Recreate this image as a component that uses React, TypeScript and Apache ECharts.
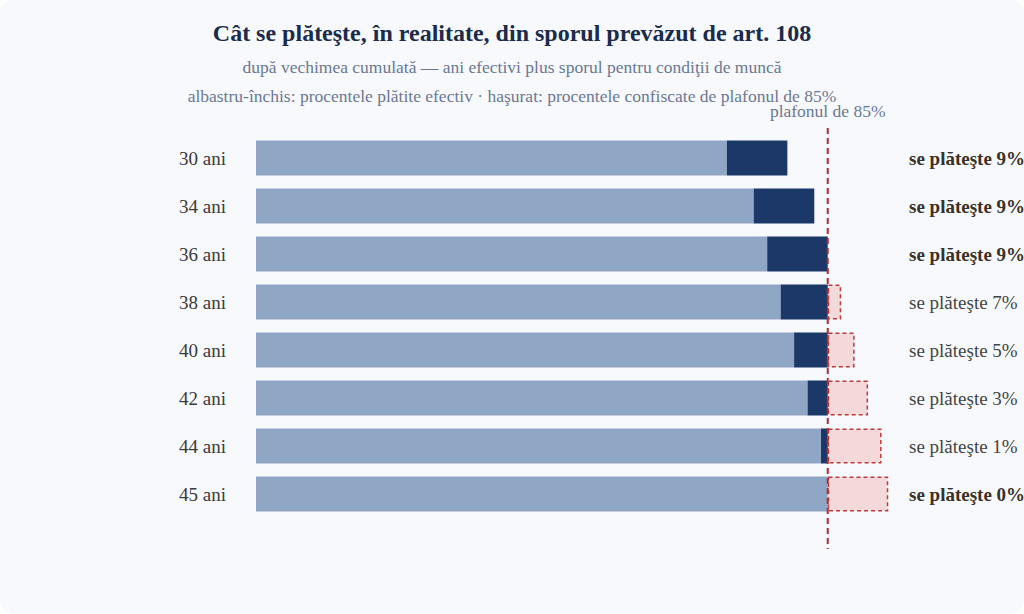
import React, { useEffect, useRef } from "react";
import * as echarts from "echarts";

const categories = ["30 ani", "34 ani", "36 ani", "38 ani", "40 ani", "42 ani", "44 ani", "45 ani"];
const baseValues = [70, 74, 76, 78, 80, 82, 84, 85];
const paidValues = [9, 9, 9, 7, 5, 3, 1, 0];
const confiscatedValues = [0, 0, 0, 2, 4, 6, 8, 9];
const capValue = 85;
const paidLabels = paidValues.map((v) => `se plăteşte ${v}%`);

const FONT = "'Liberation Serif', 'DejaVu Serif', serif";

export default function App() {
  const ref = useRef<HTMLDivElement>(null);
  useEffect(() => {
    document.body.style.margin = "0";
    const chart = echarts.init(ref.current!, undefined, { renderer: "svg" });
    const option: any = {
      animation: false,
      backgroundColor: "transparent",
      textStyle: { fontFamily: FONT },
      title: [
        {
          text: "Cât se plăteşte, în realitate, din sporul prevăzut de art. 108",
          left: "center",
          top: 16,
          textStyle: { fontFamily: FONT, fontSize: 24, fontWeight: "bold", color: "#1a2b4c" },
        },
        {
          text: "după vechimea cumulată — ani efectivi plus sporul pentru condiţii de muncă",
          left: "center",
          top: 53,
          textStyle: { fontFamily: FONT, fontSize: 17.5, fontWeight: "normal", color: "#6a7895" },
        },
        {
          text: "albastru-închis: procentele plătite efectiv · haşurat: procentele confiscate de plafonul de 85%",
          left: "center",
          top: 82,
          textStyle: { fontFamily: FONT, fontSize: 17.5, fontWeight: "normal", color: "#6a7895" },
        },
      ],
      grid: {
        left: 256,
        right: 129,
        top: 134,
        bottom: 96,
        containLabel: false,
        outerBoundsMode: "none",
      },
      xAxis: { type: "value", min: 0, max: 95, show: false, splitLine: { show: false } },
      yAxis: [
        {
          type: "category",
          data: categories,
          inverse: true,
          axisLine: { show: false },
          axisTick: { show: false },
          axisLabel: { margin: 30, fontSize: 19, color: "#3a3a3a", fontFamily: FONT },
        },
        {
          type: "category",
          data: paidLabels,
          inverse: true,
          position: "right",
          axisLine: { show: false },
          axisTick: { show: false },
          axisLabel: {
            margin: 14,
            align: "left",
            formatter: (value: string, idx: number) => {
              const p = paidValues[idx];
              return p === 9 || p === 0 ? `{b|${value}}` : `{n|${value}}`;
            },
            rich: {
              b: { fontSize: 19, fontWeight: "bold", color: "#3a3128", fontFamily: FONT },
              n: { fontSize: 19, fontWeight: "normal", color: "#444444", fontFamily: FONT },
            },
          },
        },
      ],
      series: [
        {
          type: "bar",
          stack: "a",
          barWidth: 35,
          data: baseValues,
          itemStyle: { color: "#8fa6c5" },
        },
        {
          type: "bar",
          stack: "a",
          barWidth: 35,
          data: paidValues.map((v) => (v > 0 ? v : null)),
          itemStyle: { color: "#1c3868" },
        },
        {
          type: "bar",
          stack: "a",
          barWidth: 35,
          data: confiscatedValues.map((v) => (v > 0 ? v : null)),
          itemStyle: {
            color: "#f3d9da",
            borderColor: "#c0393b",
            borderWidth: 1.5,
            borderType: [4, 3],
          },
        },
        {
          type: "custom",
          data: [[capValue, 0]],
          encode: { x: 0, y: 1 },
          z: 10,
          silent: true,
          renderItem: (params: any, api: any) => {
            const x = api.coord([api.value(0), 0])[0];
            const cs = params.coordSys;
            return {
              type: "group",
              children: [
                {
                  type: "line",
                  shape: { x1: x, y1: cs.y - 6, x2: x, y2: cs.y + cs.height + 31 },
                  style: { stroke: "#b52b2d", lineWidth: 2, lineDash: [6, 4] },
                },
                {
                  type: "text",
                  x: x,
                  y: cs.y - 23,
                  style: {
                    text: "plafonul de 85%",
                    fill: "#6a7895",
                    fontSize: 17.5,
                    fontFamily: FONT,
                    align: "center",
                    verticalAlign: "middle",
                  },
                },
              ],
            };
          },
        },
      ],
    };
    chart.setOption(option);
    return () => chart.dispose();
  }, []);
  return (
    <div
      style={{
        width: 1024,
        height: 614,
        background: "#f7f9fc",
        borderRadius: 14,
        overflow: "hidden",
      }}
    >
      <div ref={ref} style={{ width: 1024, height: 614 }} />
    </div>
  );
}
